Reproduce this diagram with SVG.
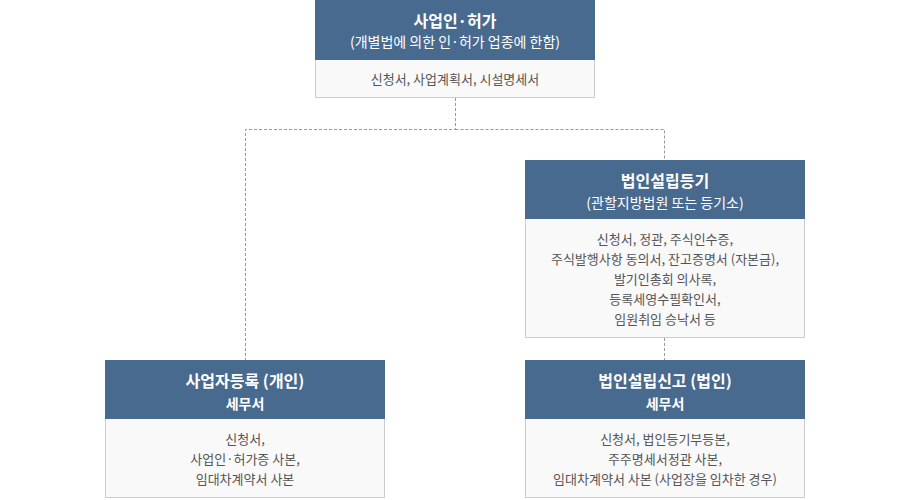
<svg xmlns="http://www.w3.org/2000/svg" width="910" height="500" viewBox="0 0 910 500">
<style>
.hd{fill:#486a8e}
.bd{fill:#f9f9f9;stroke:#cccccc;stroke-width:1}
.t{font-family:"Noto Sans CJK KR","Noto Sans",sans-serif;text-anchor:middle}
.ti{font-size:16px;font-weight:bold;fill:#ffffff}
.st{font-size:14px;fill:#ffffff}
.sb{font-size:14px;font-weight:bold;fill:#ffffff}
.tx{font-size:13px;fill:#555555}
.cn{fill:none;stroke:#999999;stroke-width:1;stroke-dasharray:3 2}
</style>
<rect width="910" height="500" fill="#ffffff"/>
<g id="connectors">
<path class="cn" d="M455.5 98 V129.5 H245.5 V360 M455.5 129.5 H664.5 V160"/>
<path class="cn" d="M664.5 338 V360"/>
</g>
<g id="node-permit">
<rect class="bd" x="315.5" y="0.5" width="279" height="97"/>
<rect class="hd" x="315" y="0" width="280" height="60"/>
<text class="t ti" x="455" y="27">사업인·허가</text>
<text class="t st" x="455" y="47">(개별법에 의한 인·허가 업종에 한함)</text>
<text class="t tx" x="455" y="84">신청서, 사업계획서, 시설명세서</text>
</g>
<g id="node-corp-reg">
<rect class="bd" x="525.5" y="160.5" width="279" height="177"/>
<rect class="hd" x="525" y="160" width="280" height="59"/>
<text class="t ti" x="665" y="187">법인설립등기</text>
<text class="t st" x="665" y="208">(관할지방법원 또는 등기소)</text>
<text class="t tx" x="665" y="244">신청서, 정관, 주식인수증,</text>
<text class="t tx" x="665" y="264">주식발행사항 동의서, 잔고증명서 (자본금),</text>
<text class="t tx" x="665" y="284">발기인총회 의사록,</text>
<text class="t tx" x="665" y="304">등록세영수필확인서,</text>
<text class="t tx" x="665" y="324">임원취임 승낙서 등</text>
</g>
<g id="node-biz-reg">
<rect class="bd" x="105.5" y="360.5" width="279" height="137"/>
<rect class="hd" x="105" y="360" width="280" height="59"/>
<text class="t ti" x="245" y="387">사업자등록 (개인)</text>
<text class="t sb" x="245" y="409">세무서</text>
<text class="t tx" x="245" y="444">신청서,</text>
<text class="t tx" x="245" y="464">사업인·허가증 사본,</text>
<text class="t tx" x="245" y="484">임대차계약서 사본</text>
</g>
<g id="node-corp-report">
<rect class="bd" x="525.5" y="360.5" width="279" height="137"/>
<rect class="hd" x="525" y="360" width="280" height="59"/>
<text class="t ti" x="665" y="387">법인설립신고 (법인)</text>
<text class="t sb" x="665" y="409">세무서</text>
<text class="t tx" x="665" y="444">신청서, 법인등기부등본,</text>
<text class="t tx" x="665" y="464">주주명세서정관 사본,</text>
<text class="t tx" x="665" y="484">임대차계약서 사본 (사업장을 임차한 경우)</text>
</g>
</svg>
